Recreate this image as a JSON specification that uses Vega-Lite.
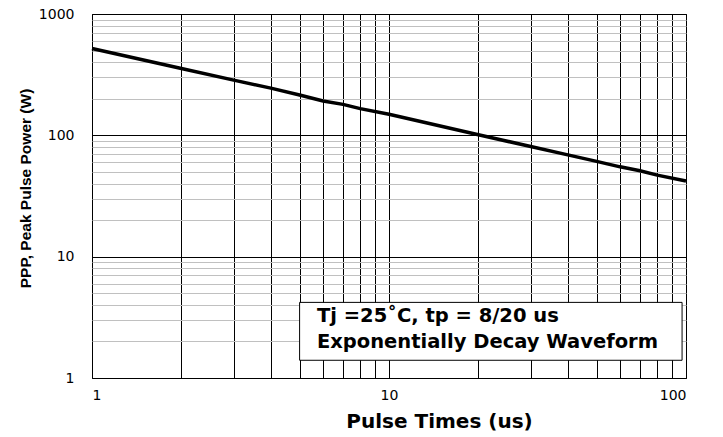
{
  "$schema": "https://vega.github.io/schema/vega-lite/v6.json",
  "width": 594,
  "height": 364,
  "autosize": {"type": "none"},
  "padding": {"left": 92, "top": 14, "right": 37, "bottom": 59},
  "background": "white",
  "config": {
    "font": "DejaVu Sans",
    "view": {"stroke": "black", "strokeWidth": 1}
  },
  "datasets": {
    "curve": [
      {"t": 1, "p": 520}, {"t": 2, "p": 355}, {"t": 3, "p": 285}, {"t": 4, "p": 245},
      {"t": 5, "p": 215}, {"t": 6, "p": 192}, {"t": 7, "p": 180}, {"t": 8, "p": 166},
      {"t": 10, "p": 149}, {"t": 20, "p": 101}, {"t": 30, "p": 81}, {"t": 40, "p": 69},
      {"t": 50, "p": 61}, {"t": 60, "p": 55}, {"t": 70, "p": 51}, {"t": 80, "p": 47},
      {"t": 100, "p": 42}
    ],
    "box": [{"x1": 5.0, "x2": 97, "y1": 1.4, "y2": 4.2}],
    "notes": [
      {"t": 5.72, "p": 3.24, "label": "Tj =25˚C, tp = 8/20 us"},
      {"t": 5.72, "p": 1.98, "label": "Exponentially Decay Waveform"}
    ]
  },
  "layer": [
    {
      "data": {"name": "curve"},
      "mark": {"type": "line", "color": "black", "strokeWidth": 3.5},
      "encoding": {
        "x": {
          "field": "t", "type": "quantitative",
          "scale": {"type": "log", "domain": [1, 100], "nice": false},
          "axis": {
            "title": "Pulse Times (us)",
            "titleFont": "DejaVu Sans", "titleFontSize": 20, "titleFontWeight": "bold",
            "titleColor": "black", "titlePadding": 9, "titleX": 347,
            "values": [1, 2, 3, 4, 5, 6, 7, 8, 9, 10, 20, 30, 40, 50, 60, 70, 80, 90, 100],
            "format": "d",
            "labelExpr": "(datum.value == 1 || datum.value == 10 || datum.value == 100) ? datum.label : ''",
            "labelFont": "DejaVu Sans", "labelFontSize": 14, "labelColor": "black", "labelPadding": 10,
            "labelOverlap": false,
            "ticks": false, "domain": false,
            "grid": true, "gridColor": "black", "gridOpacity": 1, "gridWidth": 1
          }
        },
        "y": {
          "field": "p", "type": "quantitative",
          "scale": {"type": "log", "domain": [1, 1000], "nice": false},
          "axis": {
            "title": "PPP, Peak Pulse Power (W)",
            "titleFont": "Liberation Sans", "titleFontSize": 15.5, "titleFontWeight": "bold",
            "titleColor": "black", "titlePadding": 5, "titleY": 174,
            "values": [1, 2, 3, 4, 5, 6, 7, 8, 9, 10, 20, 30, 40, 50, 60, 70, 80, 90, 100, 200, 300, 400, 500, 600, 700, 800, 900, 1000],
            "format": "d",
            "labelExpr": "(datum.value == 1 || datum.value == 10 || datum.value == 100 || datum.value == 1000) ? datum.label : ''",
            "labelFont": "DejaVu Sans", "labelFontSize": 14, "labelColor": "black", "labelPadding": 18,
            "labelOverlap": false,
            "ticks": false, "domain": false,
            "grid": true,
            "gridColor": {"condition": {"test": "datum.value == 1 || datum.value == 10 || datum.value == 100 || datum.value == 1000", "value": "black"}, "value": "#c0c0c0"},
            "gridOpacity": 1, "gridWidth": 1
          }
        }
      }
    },
    {
      "data": {"name": "box"},
      "mark": {"type": "rect", "fill": "white", "stroke": "black", "strokeWidth": 1},
      "encoding": {
        "x": {"field": "x1", "type": "quantitative"},
        "x2": {"field": "x2"},
        "y": {"field": "y1", "type": "quantitative"},
        "y2": {"field": "y2"}
      }
    },
    {
      "data": {"name": "notes"},
      "mark": {"type": "text", "align": "left", "baseline": "middle", "fontSize": 19.5, "fontWeight": "bold", "color": "black", "font": "DejaVu Sans"},
      "encoding": {
        "x": {"field": "t", "type": "quantitative"},
        "y": {"field": "p", "type": "quantitative"},
        "text": {"field": "label"}
      }
    }
  ]
}
